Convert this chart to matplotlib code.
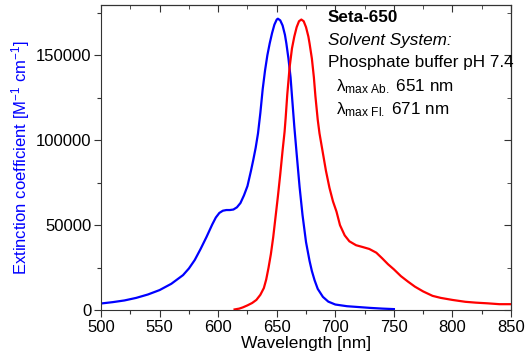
from matplotlib import pyplot as plt
from matplotlib.ticker import MultipleLocator

plt.rcParams['font.family'] = ['Liberation Sans', 'DejaVu Sans']
plt.rcParams['mathtext.fontset'] = 'custom'
plt.rcParams['mathtext.rm'] = 'Liberation Sans'
plt.rcParams['mathtext.it'] = 'Liberation Sans:italic'
plt.rcParams['mathtext.bf'] = 'Liberation Sans:bold'

# absorption spectrum (blue)
abs_nm = [500, 510, 520, 530, 540, 550, 560, 570, 575, 580, 585, 590, 595, 598, 601, 604,
          607, 610, 613, 616, 619, 622, 625, 628, 630, 632, 634, 636, 638, 640, 642, 644,
          646, 648, 650, 651, 653, 655, 657, 658.2, 660, 661.8, 663, 665, 667, 669.5, 672,
          675, 678, 680, 682.3, 685, 689.4, 694, 700, 710, 720, 730, 740, 750]
abs_val = [3900, 4700, 5700, 7200, 9200, 11800, 15500, 20600, 24500, 29500, 36000, 43000,
           50500, 54500, 57200, 58500, 58900, 58900, 59200, 60500, 63000, 67500, 73000, 82000,
           88500, 95500, 104000, 116000, 130000, 141000, 150000, 157000, 163000, 168000,
           171000, 171500, 170500, 167500, 162000, 157000, 148000, 137000, 126000, 108000,
           92000, 72500, 56000, 40000, 29000, 23000, 17600, 12500, 7800, 5000, 3300, 2300,
           1800, 1300, 900, 600]

# emission spectrum (red)
em_nm = [614, 618, 621, 625, 629, 632.6, 636, 639, 641, 643, 645, 647, 649, 651, 653, 655,
         656.7, 657.6, 659, 661, 663, 665, 667, 669, 671, 673, 675, 677, 678, 680, 681.7,
         683, 685, 686.5, 689, 692, 695, 698, 701, 704, 708, 712, 717.7, 723, 729, 735,
         740, 745, 750, 756, 762, 768, 775, 783, 790, 800, 811, 820, 830, 840, 850]
em_val = [400, 900, 1600, 2800, 4200, 6000, 9000, 13000, 18000, 25000, 33000, 43000, 55000,
          67000, 80000, 94000, 105000, 113000, 127000, 143000, 154000, 161000, 166500,
          170000, 171000, 170000, 166500, 161000, 157000, 148000, 137000, 126000, 112000,
          104000, 94000, 82000, 72000, 64000, 58000, 50000, 44000, 40500, 38200, 37200, 36000,
          33800, 30500, 27000, 24000, 20000, 16800, 13800, 11000, 8400, 7200, 6000, 4900,
          4400, 4000, 3500, 3500]

fig = plt.figure(figsize=(5.29, 3.64), dpi=100)
ax = fig.add_axes([0.191, 0.148, 0.775, 0.838])

ax.plot(abs_nm, abs_val, color='#0000ff', linewidth=1.6)
ax.plot(em_nm, em_val, color='#ff0000', linewidth=1.6)

ax.set_xlim(500, 850)
ax.set_ylim(0, 179500)
ax.xaxis.set_major_locator(MultipleLocator(50))
ax.xaxis.set_minor_locator(MultipleLocator(25))
ax.yaxis.set_major_locator(MultipleLocator(50000))
ax.yaxis.set_minor_locator(MultipleLocator(25000))
ax.tick_params(which='both', direction='out', labelsize=12, width=0.8, colors='#333333',
               labelcolor='black', pad=2)
ax.tick_params(which='major', length=5)
ax.tick_params(which='minor', length=3)

# inward ticks on top and right
sec_x = ax.secondary_xaxis('top')
sec_x.xaxis.set_major_locator(MultipleLocator(50))
sec_x.xaxis.set_minor_locator(MultipleLocator(25))
sec_x.tick_params(which='both', direction='in', labeltop=False, colors='#333333')
sec_x.tick_params(which='major', length=5)
sec_x.tick_params(which='minor', length=3)
sec_y = ax.secondary_yaxis('right')
sec_y.yaxis.set_major_locator(MultipleLocator(50000))
sec_y.yaxis.set_minor_locator(MultipleLocator(25000))
sec_y.tick_params(which='both', direction='in', labelright=False, colors='#333333')
sec_y.tick_params(which='major', length=5)
sec_y.tick_params(which='minor', length=3)
for s in ax.spines.values():
    s.set_color('#333333')

ax.set_xlabel('Wavelength [nm]', fontsize=12.5, labelpad=1)
ax.set_ylabel('Extinction coefficient [M$^{\\mathregular{-1}}$ cm$^{\\mathregular{-1}}$]',
              fontsize=12, color='#0000ff', labelpad=3)

tx = 0.553
fs = 12.3
ax.text(tx, 0.985, 'Seta-650', transform=ax.transAxes, fontsize=fs, fontweight='bold', va='top')
ax.text(tx, 0.91, 'Solvent System:', transform=ax.transAxes, fontsize=fs, style='italic', va='top')
ax.text(tx, 0.835, 'Phosphate buffer pH 7.4', transform=ax.transAxes, fontsize=fs, va='top')
ax.text(tx + 0.02, 0.762, '$\\mathregular{\\lambda_{max\\ Ab.}}$ 651 nm', transform=ax.transAxes,
        fontsize=fs, va='top')
ax.text(tx + 0.02, 0.688, '$\\mathregular{\\lambda_{max\\ Fl.}}$ 671 nm', transform=ax.transAxes,
        fontsize=fs, va='top')

fig.savefig('out.png', dpi=100)
